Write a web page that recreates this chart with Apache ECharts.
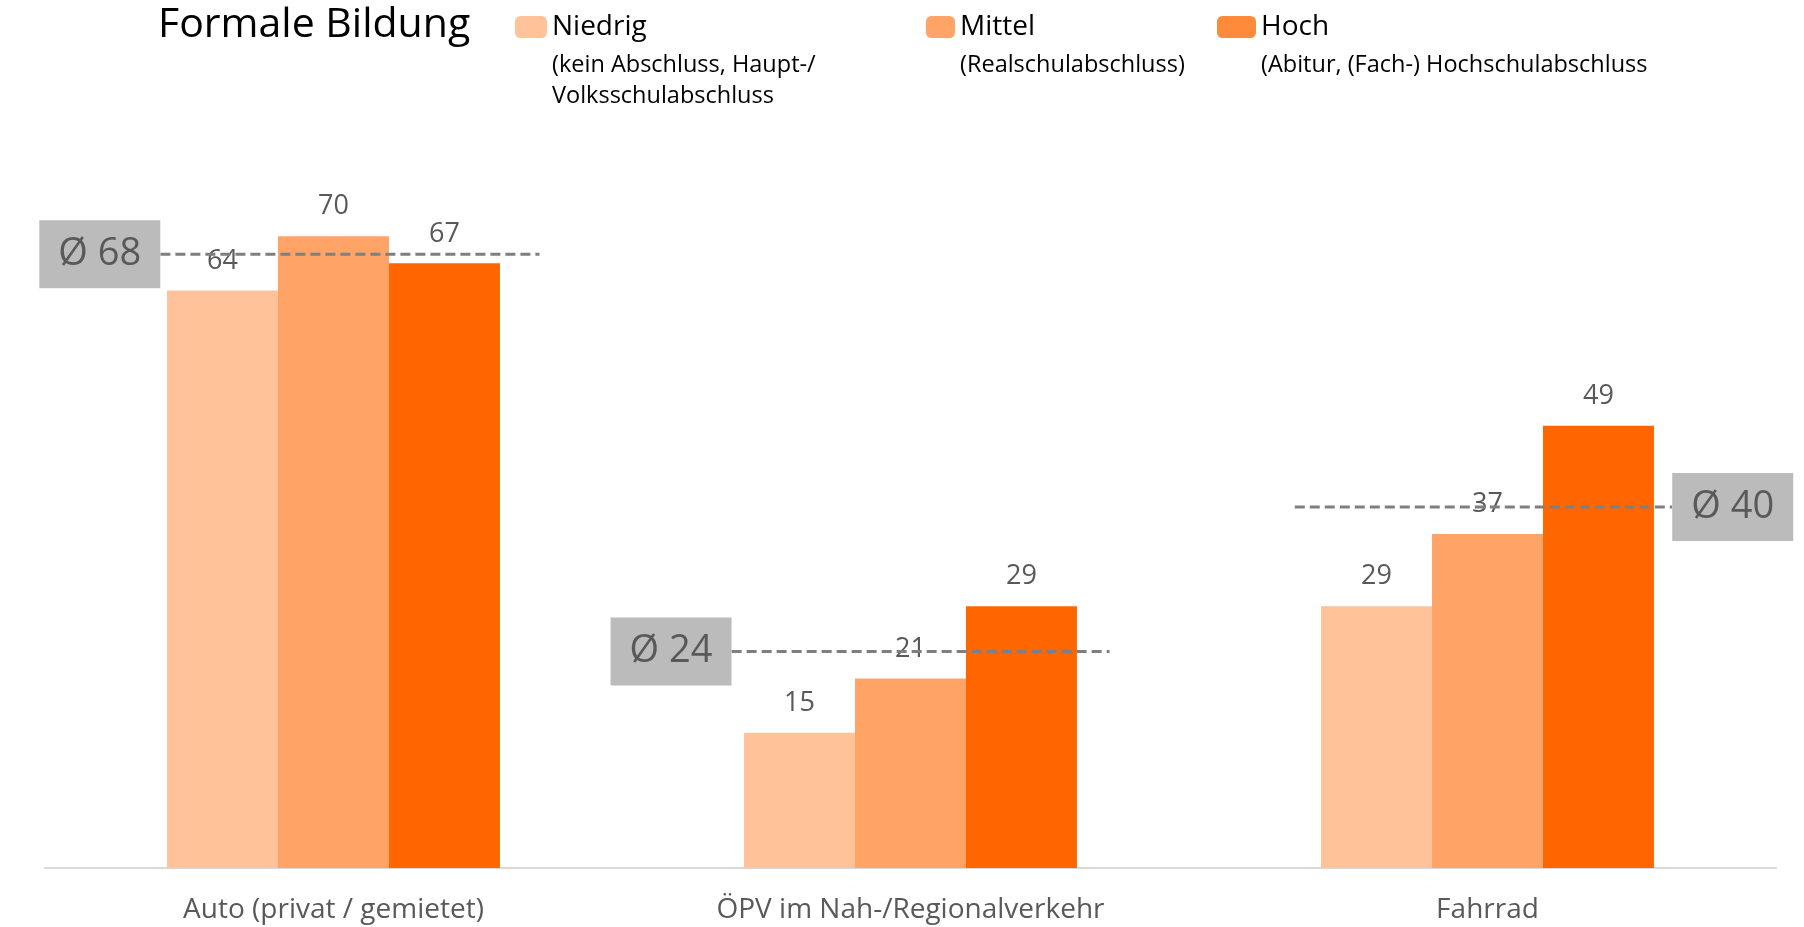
<!DOCTYPE html>
<html>
<head>
<meta charset="utf-8">
<script src="https://cdn.jsdelivr.net/npm/echarts@6/dist/echarts.min.js"></script>
<style>
  html, body { margin: 0; padding: 0; background: #ffffff; }
  #chart { width: 1804px; height: 927px; }
</style>
</head>
<body>
<div id="chart"></div>
<script>
// Data
const categories = ['Auto (privat / gemietet)', 'ÖPV im Nah-/Regionalverkehr', 'Fahrrad'];
const seriesNames = ['Niedrig', 'Mittel', 'Hoch'];
const seriesNotes = [
  ['(kein Abschluss, Haupt-/', 'Volksschulabschluss'],
  ['(Realschulabschluss)'],
  ['(Abitur, (Fach-) Hochschulabschluss']
];
const niedrig = [64, 15, 29];
const mittel = [70, 21, 37];
const hoch = [67, 29, 49];
const averages = [68, 24, 40];

// Styling
const FONT = '"Open Sans", "Noto Sans", sans-serif';
const barColors = ['#FFC299', '#FFA366', '#FF6600'];
const legendColors = ['#FFC299', '#FFA366', '#FF8A3A'];
const legendIconWidth = [32, 29, 39];
const noteLeft = [552, 960, 1261];
const legendLeft = noteLeft.map((x, i) => x - 5 - legendIconWidth[i]);

// Average line extent around each category centre (in category units)
// and the side where the average box sits.
const avgSpan = [[-0.30, 0.357], [-0.31, 0.345], [-0.334, 0.32]];
const avgBoxSide = ['left', 'left', 'right'];
const BOX_HALF = 0.105;

const valueSeries = [niedrig, mittel, hoch];

const chart = echarts.init(document.getElementById('chart'), null, { renderer: 'canvas' });

const barSeries = seriesNames.map((name, i) => ({
  name: name,
  type: 'bar',
  xAxisIndex: 0,
  yAxisIndex: 0,
  data: valueSeries[i],
  barGap: '0%',
  barCategoryGap: '42.3%',
  itemStyle: { color: barColors[i] },
  label: {
    show: true,
    position: 'top',
    distance: 16,
    color: '#595959',
    fontSize: 27,
    fontFamily: FONT
  },
  z: 2
}));

const avgLineSeries = averages.map((avg, i) => ({
  name: 'avg' + i,
  type: 'line',
  xAxisIndex: 1,
  yAxisIndex: 0,
  data: [[i + avgSpan[i][0], avg], [i + avgSpan[i][1], avg]],
  symbol: 'none',
  silent: true,
  lineStyle: { color: '#7F7F7F', width: 3, type: [10, 5] },
  z: 5
}));

const avgBoxSeries = {
  name: 'avgBox',
  type: 'scatter',
  xAxisIndex: 1,
  yAxisIndex: 0,
  silent: true,
  symbol: 'rect',
  symbolSize: [121, 68],
  itemStyle: { color: '#BBBBBB', opacity: 1 },
  data: averages.map((avg, i) => {
    const x = avgBoxSide[i] === 'left'
      ? i + avgSpan[i][0] - BOX_HALF
      : i + avgSpan[i][1] + BOX_HALF;
    return [x, avg];
  }),
  label: {
    show: true,
    position: 'inside',
    formatter: p => 'Ø ' + p.value[1],
    color: '#595959',
    fontSize: 38,
    fontFamily: FONT
  },
  z: 6
};

const titles = [{
  text: 'Formale Bildung',
  left: 153,
  top: 0,
  textStyle: { fontSize: 41, fontWeight: 'normal', color: '#000000', fontFamily: FONT }
}].concat(seriesNotes.map((lines, i) => ({
  text: lines.join('\n'),
  left: noteLeft[i],
  top: 50,
  padding: 0,
  textStyle: { fontSize: 23.5, lineHeight: 31, fontWeight: 'normal', color: '#000000', fontFamily: FONT }
})));

const legends = seriesNames.map((name, i) => ({
  data: [{ name: name, itemStyle: { color: legendColors[i] } }],
  left: legendLeft[i],
  top: 13,
  padding: 0,
  itemWidth: legendIconWidth[i],
  itemHeight: 22,
  icon: 'roundRect',
  selectedMode: false,
  textStyle: { fontSize: 28, color: '#000000', fontFamily: FONT }
}));

chart.setOption({
  animation: false,
  backgroundColor: '#ffffff',
  title: titles,
  legend: legends,
  grid: { left: 45, right: 28, top: 146, bottom: 59, containLabel: false },
  xAxis: [
    {
      type: 'category',
      data: categories,
      axisLine: { show: true, lineStyle: { color: '#D9D9D9', width: 2 } },
      axisTick: { show: false },
      axisLabel: { color: '#595959', fontSize: 28, fontFamily: FONT, margin: 28 },
      splitLine: { show: false }
    },
    {
      type: 'value',
      min: -0.5,
      max: 2.5,
      show: false,
      splitLine: { show: false }
    }
  ],
  yAxis: [{
    type: 'value',
    min: 0,
    max: 80,
    show: false,
    splitLine: { show: false }
  }],
  series: barSeries.concat(avgLineSeries, [avgBoxSeries])
});
</script>
</body>
</html>
